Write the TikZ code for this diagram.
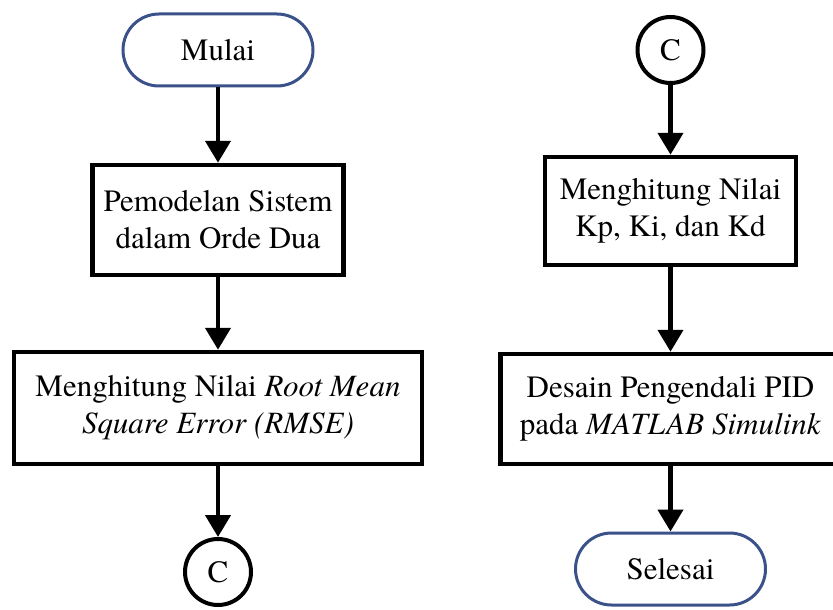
\documentclass[tikz,border=0pt]{standalone}
\usepackage{fontspec}
\setmainfont{texgyretermes}[Extension=.otf, UprightFont=*-regular, ItalicFont=*-italic, BoldFont=*-bold, BoldItalicFont=*-bolditalic]
\usetikzlibrary{positioning, arrows.meta}
\definecolor{terminalblue}{HTML}{3A5289}
\tikzstyle{startstop} = [rectangle, rounded corners=36pt, minimum width=190pt, minimum height=72pt, text centered, draw=terminalblue, line width=3pt, font=\fontsize{31}{38}\selectfont]
\tikzstyle{process} = [rectangle, minimum width=251pt, minimum height=110pt, text centered, align=center, draw=black, line width=4.5pt, font=\fontsize{31}{37}\selectfont]
\tikzstyle{connector} = [circle, minimum size=66pt, inner sep=0pt, draw=black, line width=4pt, font=\fontsize{31}{38}\selectfont]
\tikzstyle{arrow} = [line width=4.5pt, -{Triangle[width=25pt,length=22pt]}]

\begin{document}
\begin{tikzpicture}[x=1pt, y=-1pt, node distance=170pt]
    \useasboundingbox (0,0) rectangle (833,610);

        % Nodes, left column
        \node (mulai) [startstop] at (218,50) {Mulai};
        \node (pemodelan) [process, below of=mulai] {Pemodelan Sistem\\dalam Orde Dua};
        \node (rmse) [process, below of=pemodelan, yshift=-18pt, minimum width=408pt, minimum height=112pt] {Menghitung Nilai \textit{Root Mean}\\\textit{Square Error (RMSE)}};
        \node (cleft) [connector, below of=rmse, yshift=6pt] {C};

        % Nodes, right column
        \node (cright) [connector] at (670.5,50) {C};
        \node (kpid) [process, below of=cright, yshift=9pt, minimum height=108pt] {Menghitung Nilai\\Kp, Ki, dan Kd};
        \node (desain) [process, below of=kpid, yshift=-28pt, minimum width=340pt] {Desain Pengendali PID\\pada \textit{MATLAB Simulink}};
        \node (selesai) [startstop, below of=desain, yshift=10pt] {Selesai};

        % Arrows
        \draw [arrow] (mulai) -- (pemodelan);
        \draw [arrow] (pemodelan) -- (rmse);
        \draw [arrow] (rmse) -- (cleft);
        \draw [arrow] (cright) -- (kpid);
        \draw [arrow] (kpid) -- (desain);
        \draw [arrow] (desain) -- (selesai);

    \end{tikzpicture}
\end{document}
